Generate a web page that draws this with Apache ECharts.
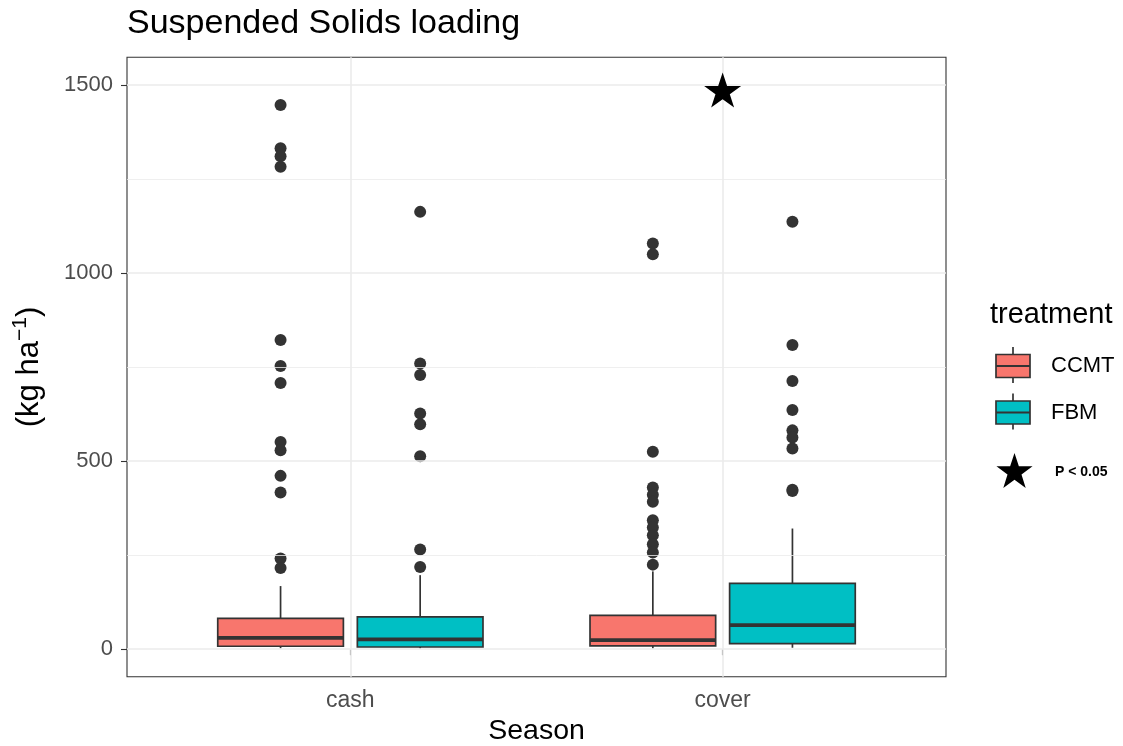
<!DOCTYPE html>
<html>
<head>
<meta charset="utf-8">
<script src="https://cdn.jsdelivr.net/npm/echarts@6/dist/echarts.min.js"></script>
<style>html,body{margin:0;padding:0;background:#fff;}#c{width:1123px;height:746px;}</style>
</head>
<body>
<div id="c"></div>
<script>
// ---------- data ----------
const seasons = ['cash', 'cover'];
const treatments = ['CCMT', 'FBM'];
const treatmentColors = ['#F8766D', '#00BFC4'];
// box stats per season: [lower whisker, Q1, median, Q3, upper whisker]
const ccmtStats = [[2, 8, 30, 82, 168], [2, 9, 24, 90, 207]];
const fbmStats = [[2, 6, 26, 86, 197], [4, 15, 64, 175, 321]];
// outliers per season
const ccmtOutliers = [
  [1447, 1332, 1311, 1283, 822, 753, 708, 551, 529, 461, 417, 241, 216],
  [1079, 1050, 525, 430, 411, 392, 343, 324, 303, 279, 257, 225]
];
const fbmOutliers = [
  [1163, 760, 729, 627, 598, 513, 265, 219],
  [1137, 809, 713, 636, 582, 563, 534, 424, 421]
];
const starSeason = 'cover';
const starValue = 1487;
const yTicks = [0, 500, 1000, 1500];
const yMinorTicks = [250, 750, 1250];
const titleText = 'Suspended Solids loading';
const xTitle = 'Season';
const legendTitle = 'treatment';
const starLabel = 'P < 0.05';

// ---------- build ----------
const FONT = '"Liberation Sans", Arial, sans-serif';
const dodge = 0.1875, halfW = 0.16875;
const statsByTreatment = [ccmtStats, fbmStats];
const outByTreatment = [ccmtOutliers, fbmOutliers];
const STAR_PTS = [[50,0],[61.8,35.1],[98.8,35.1],[68.9,56.8],[80.3,91.9],[50,70.2],[19.7,91.9],[31.1,56.8],[1.2,35.1],[38.2,35.1]];
const STAR = 'path://M' + STAR_PTS.map(p => p[0] + ',' + p[1]).join(' L') + ' Z';

const boxData = [];
const outData = [];
treatments.forEach((t, ti) => {
  seasons.forEach((s, si) => {
    const xp = si + 1 + (ti === 0 ? -dodge : dodge);
    boxData.push({ value: [xp].concat(statsByTreatment[ti][si]), itemStyle: { color: treatmentColors[ti] } });
    outByTreatment[ti][si].forEach(v => outData.push([xp, v]));
  });
});

function renderBox(params, api) {
  const x = api.value(0);
  const lo = api.value(1), q1 = api.value(2), med = api.value(3), q3 = api.value(4), hi = api.value(5);
  const fill = api.visual('color');
  const pL = api.coord([x - halfW, q3]);
  const pR = api.coord([x + halfW, q1]);
  const pMedL = api.coord([x - halfW, med]);
  const pMedR = api.coord([x + halfW, med]);
  const pHi = api.coord([x, hi]);
  const pQ3 = api.coord([x, q3]);
  const pQ1 = api.coord([x, q1]);
  const pLo = api.coord([x, lo]);
  const st = { stroke: '#333333', lineWidth: 1.7 };
  return {
    type: 'group',
    children: [
      { type: 'line', shape: { x1: pHi[0], y1: pHi[1], x2: pQ3[0], y2: pQ3[1] }, style: st },
      { type: 'line', shape: { x1: pLo[0], y1: pLo[1], x2: pQ1[0], y2: pQ1[1] }, style: st },
      { type: 'rect', shape: { x: pL[0], y: pL[1], width: pR[0] - pL[0], height: pR[1] - pL[1] },
        style: { fill: fill, stroke: '#333333', lineWidth: 1.7 } },
      { type: 'line', shape: { x1: pMedL[0], y1: pMedL[1], x2: pMedR[0], y2: pMedR[1] },
        style: { stroke: '#333333', lineWidth: 3.8 } }
    ]
  };
}

const gridLineData = [];
yTicks.forEach(v => gridLineData.push({ yAxis: v, lineStyle: { color: '#EBEBEB', width: 1.6, type: 'solid' } }));
yMinorTicks.forEach(v => gridLineData.push({ yAxis: v, lineStyle: { color: '#EBEBEB', width: 0.8, type: 'solid' } }));
seasons.forEach((s, i) => gridLineData.push({ xAxis: i + 1, lineStyle: { color: '#EBEBEB', width: 1.6, type: 'solid' } }));

const chart = echarts.init(document.getElementById('c'), null, { renderer: 'canvas' });
const legendItems = [];
legendItems.push({ type: 'text', x: 990, y: 315,
  style: { text: legendTitle, font: '29px ' + FONT, fill: '#000', textVerticalAlign: 'middle', verticalAlign: 'middle' } });
treatments.forEach((t, i) => {
  const cy = 366 + i * 46.5;
  legendItems.push({ type: 'line', shape: { x1: 1013, y1: cy - 19, x2: 1013, y2: cy + 17 }, style: { stroke: '#333', lineWidth: 1.7 } });
  legendItems.push({ type: 'rect', shape: { x: 996, y: cy - 11.5, width: 34, height: 23 },
    style: { fill: treatmentColors[i], stroke: '#333', lineWidth: 1.7 } });
  legendItems.push({ type: 'line', shape: { x1: 996, y1: cy, x2: 1030, y2: cy }, style: { stroke: '#333', lineWidth: 1.9 } });
  legendItems.push({ type: 'text', x: 1051, y: cy,
    style: { text: t, font: '22px ' + FONT, fill: '#000', textVerticalAlign: 'middle', verticalAlign: 'middle' } });
});
legendItems.push({ type: 'polygon',
  shape: { points: STAR_PTS.map(p => [996 + p[0] * 37 / 100, 453 + p[1] * 35 / 92]) },
  style: { fill: '#000' } });
legendItems.push({ type: 'text', x: 1055, y: 472,
  style: { text: starLabel, font: 'bold 14px ' + FONT, fill: '#000', textVerticalAlign: 'middle', verticalAlign: 'middle' } });

chart.setOption({
  animation: false,
  backgroundColor: '#ffffff',
  textStyle: { fontFamily: FONT },
  title: { text: titleText, left: 122, top: 2,
    textStyle: { fontSize: 34, fontWeight: 'normal', color: '#000', fontFamily: FONT } },
  grid: { left: 127, top: 57.3, width: 819, height: 619.4, show: true, outerBoundsMode: 'none',
    borderColor: '#333333', borderWidth: 1.1, backgroundColor: 'transparent', containLabel: false },
  xAxis: {
    type: 'value', min: 0.4, max: 2.6,
    name: xTitle, nameLocation: 'middle', nameGap: 40,
    nameTextStyle: { fontSize: 28.5, color: '#000', fontFamily: FONT },
    axisLine: { show: false },
    splitLine: { show: false },
    axisTick: { show: true, customValues: [1, 2], length: 6, lineStyle: { color: '#333', width: 1.1 } },
    axisLabel: { customValues: [1, 2], formatter: v => seasons[Math.round(v) - 1], fontSize: 23,
      color: '#4D4D4D', margin: 12, fontFamily: FONT }
  },
  yAxis: {
    type: 'value', min: -73, max: 1574,
    name: '(kg ha{sup|−1})', nameLocation: 'middle', nameRotate: 90, nameGap: 79,
    nameTextStyle: { fontSize: 31, color: '#000', fontFamily: FONT,
      rich: { sup: { fontSize: 21, color: '#000', fontFamily: FONT, padding: [0, 0, 17, 0] } } },
    axisLine: { show: false },
    splitLine: { show: false },
    axisTick: { show: true, customValues: yTicks, length: 6, lineStyle: { color: '#333', width: 1.1 } },
    axisLabel: { customValues: yTicks, formatter: v => String(v), fontSize: 22, color: '#4D4D4D',
      margin: 14, fontFamily: FONT }
  },
  series: [
    { type: 'scatter', name: 'grid', data: [], z: 0, silent: true,
      markLine: { silent: true, symbol: 'none', label: { show: false }, animation: false, data: gridLineData } },
    { type: 'custom', name: 'boxes', renderItem: renderBox, data: boxData, z: 3,
      encode: { x: 0, y: [1, 2, 3, 4, 5] } },
    { type: 'scatter', name: 'outliers', data: outData, symbolSize: 12, z: 4,
      itemStyle: { color: '#333333', opacity: 1 } },
    { type: 'scatter', name: 'star', data: [[seasons.indexOf(starSeason) + 1, starValue]],
      symbol: STAR, symbolSize: [37, 35], z: 5, itemStyle: { color: '#000', opacity: 1 } }
  ],
  graphic: legendItems
});
</script>
</body>
</html>
